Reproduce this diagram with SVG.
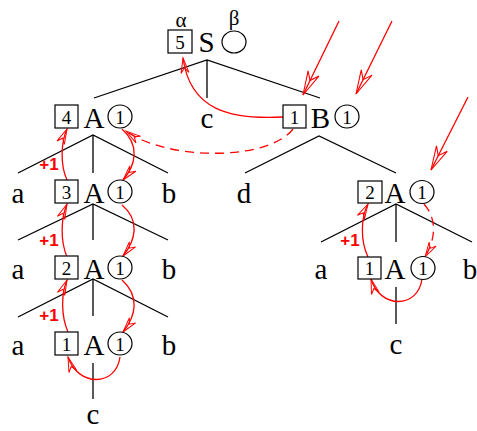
<svg xmlns="http://www.w3.org/2000/svg" width="477" height="431" viewBox="0 0 477 431">
<style>
.t{font-family:"Liberation Serif","Times New Roman",serif;fill:#000}
.big{font-size:29px}
.dig{font-size:19px}
.gr{font-size:21px}
.box{fill:#fff;stroke:#000;stroke-width:1.2}
.circ{fill:#fff;stroke:#000;stroke-width:1.2}
.edge{stroke:#000;stroke-width:1.3;fill:none}
.red{stroke:#f00;stroke-width:1.3;fill:none}
.dash{stroke-dasharray:9,6}
.plus{font-family:"Liberation Sans",Arial,sans-serif;font-weight:bold;font-size:17px;fill:#f00}
</style>
<defs>
<marker id="h" markerUnits="userSpaceOnUse" markerWidth="40" markerHeight="40" refX="0" refY="0" orient="auto" overflow="visible">
<path d="M0,0 L-15,-4 L-10,0 L-15,4 Z" fill="none" stroke="#f00" stroke-width="1"/>
</marker>
<marker id="H" markerUnits="userSpaceOnUse" markerWidth="40" markerHeight="40" refX="0" refY="0" orient="auto" overflow="visible">
<path d="M0,0 L-24,-6 L-16,0 L-24,6 Z" fill="none" stroke="#f00" stroke-width="1.1"/>
</marker>
</defs>

<g id="connectors">
<path class="edge" d="M94,98 L207,60 L320,98 M207,60 L207,98"/>
<path class="edge" d="M18,173 L93,135 L168,173 M93,135 L93,173"/>
<path class="edge" d="M18,240 L93,204 L168,240 M93,204 L93,240"/>
<path class="edge" d="M18,317 L93,279 L168,317 M93,279 L93,316"/>
<path class="edge" d="M93,363 L93,399"/>
<path class="edge" d="M245,173 L319,136 L396,173"/>
<path class="edge" d="M321,242 L396,204 L472,242 M396,204 L396,242"/>
<path class="edge" d="M396,287 L396,324"/>
<path class="red" d="M339,21 L303,95" marker-end="url(#H)"/>
<path class="red" d="M392,21 L356,94" marker-end="url(#H)"/>
<path class="red" d="M468,97 L431,170" marker-end="url(#H)"/>
<path class="red" d="M283,117 C 230,120 190,110 183,58" marker-end="url(#h)"/>
<path class="red dash" d="M293,129 C 270,160 170,162 126,131" marker-end="url(#h)"/>
<path class="red" d="M67,180 C 60,165 61,142 67,129" marker-end="url(#h)"/>
<path class="red" d="M67,257 C 60,240 61,218 67,204" marker-end="url(#h)"/>
<path class="red" d="M68,332 C 61,316 61,294 67,280" marker-end="url(#h)"/>
<path class="red" d="M122,129 C 140,145 136,165 123,180" marker-end="url(#h)"/>
<path class="red" d="M122,205 C 140,220 136,240 123,256" marker-end="url(#h)"/>
<path class="red" d="M122,280 C 140,296 136,316 123,332" marker-end="url(#h)"/>
<path class="red" d="M120,357 C 116,387 78,387 68,357" marker-end="url(#h)"/>
<path class="red" d="M368,257 C 360,240 361,217 368,204" marker-end="url(#h)"/>
<path class="red dash" d="M424,204 C 438,220 435,240 425,257" marker-end="url(#h)"/>
<path class="red" d="M422,279 C 418,309 380,309 371,279" marker-end="url(#h)"/>
</g>

<g id="node-S">
<rect class="box" x="168" y="30" width="24" height="23"/>
<text class="t dig" x="180" y="48.5" text-anchor="middle">5</text>
<text class="t big" x="206.5" y="52" text-anchor="middle">S</text>
<ellipse class="circ" cx="234" cy="42" rx="12" ry="11"/>
<text class="t gr" x="181" y="27" text-anchor="middle">α</text>
<text class="t gr" x="234" y="25" text-anchor="middle">β</text>
</g>

<g id="node-A4">
<rect class="box" x="55" y="105" width="23" height="23"/>
<text class="t dig" x="66.5" y="123.5" text-anchor="middle">4</text>
<text class="t big" x="94" y="128" text-anchor="middle">A</text>
<ellipse class="circ" cx="120" cy="116.5" rx="12" ry="11.5"/>
<text class="t dig" x="120" y="123.5" text-anchor="middle">1</text>
</g>

<g id="node-c1"><text class="t big" x="207" y="128" text-anchor="middle">c</text></g>

<g id="node-B">
<rect class="box" x="283" y="105" width="23" height="23"/>
<text class="t dig" x="294.5" y="123.5" text-anchor="middle">1</text>
<text class="t big" x="320.5" y="128" text-anchor="middle">B</text>
<ellipse class="circ" cx="347" cy="116.5" rx="12" ry="11.5"/>
<text class="t dig" x="347" y="123.5" text-anchor="middle">1</text>
</g>

<g id="node-a3"><text class="t big" x="18" y="203" text-anchor="middle">a</text></g>
<g id="node-A3">
<rect class="box" x="55" y="180" width="23" height="23"/>
<text class="t dig" x="66.5" y="198.5" text-anchor="middle">3</text>
<text class="t big" x="94" y="203" text-anchor="middle">A</text>
<ellipse class="circ" cx="120" cy="191.5" rx="12" ry="11.5"/>
<text class="t dig" x="120" y="198.5" text-anchor="middle">1</text>
</g>
<g id="node-b3"><text class="t big" x="169" y="203" text-anchor="middle">b</text></g>
<g id="node-d"><text class="t big" x="244" y="203" text-anchor="middle">d</text></g>
<g id="node-Ar2">
<rect class="box" x="358" y="181" width="24" height="22"/>
<text class="t dig" x="370" y="199" text-anchor="middle">2</text>
<text class="t big" x="395" y="203" text-anchor="middle">A</text>
<ellipse class="circ" cx="422" cy="192" rx="12" ry="11.5"/>
<text class="t dig" x="422" y="199" text-anchor="middle">1</text>
</g>

<g id="node-a4"><text class="t big" x="18" y="279" text-anchor="middle">a</text></g>
<g id="node-A2">
<rect class="box" x="55" y="256" width="23" height="23"/>
<text class="t dig" x="66.5" y="274.5" text-anchor="middle">2</text>
<text class="t big" x="94" y="279" text-anchor="middle">A</text>
<ellipse class="circ" cx="120" cy="267.5" rx="12" ry="11.5"/>
<text class="t dig" x="120" y="274.5" text-anchor="middle">1</text>
</g>
<g id="node-b4"><text class="t big" x="169" y="279" text-anchor="middle">b</text></g>
<g id="node-ar"><text class="t big" x="321" y="279" text-anchor="middle">a</text></g>
<g id="node-Ar1">
<rect class="box" x="358" y="257" width="23" height="22"/>
<text class="t dig" x="369.5" y="275" text-anchor="middle">1</text>
<text class="t big" x="395" y="279" text-anchor="middle">A</text>
<ellipse class="circ" cx="423" cy="268" rx="12" ry="11.5"/>
<text class="t dig" x="423" y="275" text-anchor="middle">1</text>
</g>
<g id="node-br"><text class="t big" x="470" y="279" text-anchor="middle">b</text></g>

<g id="node-a5"><text class="t big" x="18" y="355" text-anchor="middle">a</text></g>
<g id="node-A1">
<rect class="box" x="55" y="332" width="23" height="23"/>
<text class="t dig" x="66.5" y="350.5" text-anchor="middle">1</text>
<text class="t big" x="94" y="355" text-anchor="middle">A</text>
<ellipse class="circ" cx="120" cy="343.5" rx="12" ry="11.5"/>
<text class="t dig" x="120" y="350.5" text-anchor="middle">1</text>
</g>
<g id="node-b5"><text class="t big" x="169" y="355" text-anchor="middle">b</text></g>
<g id="node-cr"><text class="t big" x="396" y="354" text-anchor="middle">c</text></g>
<g id="node-c5"><text class="t big" x="93" y="424" text-anchor="middle">c</text></g>

<g id="labels">
<text class="plus" x="49" y="170" text-anchor="middle">+1</text>
<text class="plus" x="49" y="246" text-anchor="middle">+1</text>
<text class="plus" x="49" y="321" text-anchor="middle">+1</text>
<text class="plus" x="350" y="246" text-anchor="middle">+1</text>
</g>
</svg>
